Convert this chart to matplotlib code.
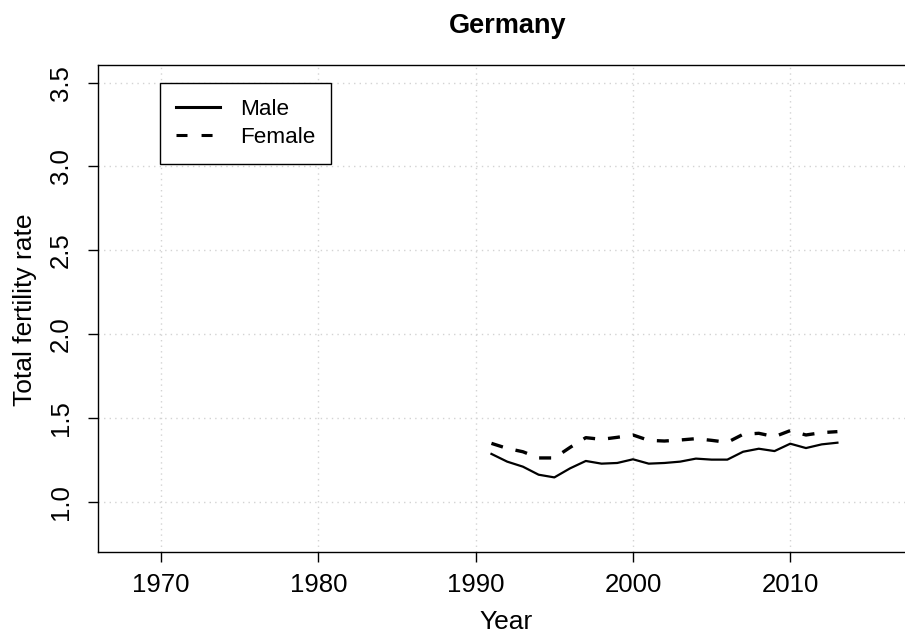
import matplotlib
matplotlib.use("Agg")
import matplotlib.pyplot as plt

plt.rcParams["font.family"] = ["Liberation Sans", "DejaVu Sans"]

# Total fertility rate, Germany
years = list(range(1991, 2014))
male = [1.285, 1.239, 1.209, 1.161, 1.145, 1.199, 1.243, 1.227, 1.231, 1.253,
        1.227, 1.231, 1.239, 1.257, 1.251, 1.251, 1.298, 1.316, 1.302, 1.346,
        1.320, 1.342, 1.352]
female = [1.348, 1.318, 1.298, 1.261, 1.261, 1.324, 1.382, 1.372, 1.384, 1.398,
          1.366, 1.362, 1.368, 1.376, 1.366, 1.354, 1.402, 1.408, 1.388, 1.424,
          1.398, 1.412, 1.418]

xticks = [1970, 1980, 1990, 2000, 2010]
yticks = [1.0, 1.5, 2.0, 2.5, 3.0, 3.5]

W, H = 905, 638
fig = plt.figure(figsize=(W / 100, H / 100), dpi=100)

# plot region runs past the right edge of the canvas
left, right, top, bottom = 98.3, 947.5, 64.7, 551.7
ax = fig.add_axes([left / W, 1 - bottom / H, (right - left) / W, (bottom - top) / H])
ax.set_xlim(1966, 2020)
ax.set_ylim(0.7017, 3.607)

ax.set_xticks(xticks)
ax.set_xticklabels([str(t) for t in xticks])
ax.set_yticks(yticks)
ax.set_yticklabels([f"{t:.1f}" for t in yticks], rotation=90, va="center")

ax.grid(True, color="#D3D3D3", linestyle=(0, (1, 3)), linewidth=1)
ax.set_axisbelow(True)

for s in ax.spines.values():
    s.set_color("black")
    s.set_linewidth(1)
ax.spines["right"].set_visible(False)

ax.tick_params(axis="both", direction="out", length=7.5, width=1,
               labelsize=18.5, colors="black")
ax.tick_params(axis="x", pad=8)
ax.tick_params(axis="y", pad=11)

ax.plot(years, male, color="black", linewidth=1.6, solid_joinstyle="round",
        label="Male")
ax.plot(years, female, color="black", linewidth=2.4, dashes=(3.6, 3.9),
        label="Female")

leg_handles = [
    plt.Line2D([], [], color="black", linewidth=2.2),
    plt.Line2D([], [], color="black", linewidth=2.2, dashes=(3.6, 4.6)),
]
leg = ax.legend(leg_handles, ["Male", "Female"], loc="upper left",
                bbox_to_anchor=((160 - left) / (right - left), (bottom - 82.7) / (bottom - top)),
                borderaxespad=0, fontsize=16.2, handlelength=1.93,
                handletextpad=0.89, borderpad=0.72, labelspacing=0.32,
                fancybox=False, framealpha=1, edgecolor="black")
leg.get_frame().set_linewidth(1)

fig.text(507.7 / W, 1 - 33.3 / H, "Germany", ha="center", va="baseline",
         fontsize=19.5, fontweight="bold")
fig.text(505.8 / W, 1 - 629 / H, "Year", ha="center", va="baseline",
         fontsize=19)
fig.text(32.5 / W, 1 - 310 / H, "Total fertility rate", ha="center",
         va="baseline", rotation=90, rotation_mode="anchor", fontsize=19)

fig.savefig("out.png", dpi=100)
